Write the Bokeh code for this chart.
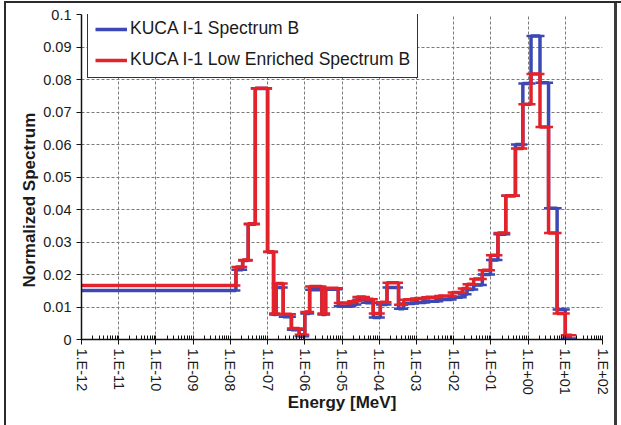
import math
from bokeh.plotting import figure
from bokeh.models import (Range1d, FixedTicker, CustomJSTickFormatter, Legend,
                          LegendItem, Title)
from bokeh.embed import file_html
from bokeh.resources import INLINE

# ---------------- data ----------------
# energy group boundaries [MeV]
bin_edges_mev = [1e-12, 1.41e-8, 2.14e-8, 3.02e-8, 4.68e-8, 1.0e-7, 1.45e-7, 1.70e-7,
                 2.63e-7, 4.37e-7, 7.08e-7, 1.0e-6, 1.35e-6, 2.88e-6, 3.63e-6, 7.94e-6,
                 1.82e-5, 2.51e-5, 4.27e-5, 6.92e-5, 1.07e-4, 1.62e-4, 3.31e-4, 4.57e-4,
                 8.91e-4, 1.78e-3, 3.98e-3, 9.12e-3, 1.70e-2, 2.29e-2, 3.47e-2, 5.89e-2,
                 9.77e-2, 0.155, 0.251, 0.457, 0.724, 1.20, 2.09, 3.55, 6.03, 10.0, 15.1]

spectrum_b = [0.0151, 0.0215, 0.0243, 0.0355, 0.0772, 0.0269, 0.0077, 0.0160, 0.0070,
              0.0030, 0.0010, 0.0080, 0.0153, 0.0077, 0.0155, 0.0102, 0.0108, 0.0122,
              0.0113, 0.0068, 0.0108, 0.0160, 0.0095, 0.0111, 0.0114, 0.0118, 0.0123,
              0.0130, 0.0139, 0.0154, 0.0168, 0.0200, 0.0245, 0.0324, 0.0442, 0.0600,
              0.0788, 0.0934, 0.0790, 0.0404, 0.0092, 0.0003]

low_enriched_b = [0.0166, 0.0223, 0.0245, 0.0356, 0.0773, 0.0270, 0.0080, 0.0172, 0.0078,
                  0.0034, 0.0015, 0.0085, 0.0163, 0.0080, 0.0158, 0.0112, 0.0118, 0.0131,
                  0.0124, 0.0080, 0.0115, 0.0175, 0.0107, 0.0122, 0.0126, 0.0130, 0.0134,
                  0.0145, 0.0157, 0.0170, 0.0186, 0.0213, 0.0259, 0.0328, 0.0442, 0.0588,
                  0.0724, 0.0817, 0.0654, 0.0328, 0.0080, 0.0013]

series_names = ["KUCA I-1 Spectrum B", "KUCA I-1 Low Enriched Spectrum B"]

x_tick_values = [1e-12, 1e-11, 1e-10, 1e-9, 1e-8, 1e-7, 1e-6, 1e-5, 1e-4, 1e-3,
                 1e-2, 1e-1, 1e0, 1e1, 1e2]
x_tick_labels = ["1.E-12", "1.E-11", "1.E-10", "1.E-09", "1.E-08", "1.E-07", "1.E-06",
                 "1.E-05", "1.E-04", "1.E-03", "1.E-02", "1.E-01", "1.E+00", "1.E+01",
                 "1.E+02"]
y_tick_values = [0.0, 0.01, 0.02, 0.03, 0.04, 0.05, 0.06, 0.07, 0.08, 0.09, 0.1]
y_tick_labels = ["0", "0.01", "0.02", "0.03", "0.04", "0.05", "0.06", "0.07", "0.08",
                 "0.09", "0.1"]

x_title = "Energy [MeV]"
y_title = "Normalized Spectrum"

# ---------------- styling ----------------
BLUE = "#3c48b4"
RED = "#e2232b"
FONT = "Liberation Sans"

p = figure(width=621, height=425, x_axis_type="log", output_backend="svg",
           toolbar_location=None,
           x_range=Range1d(x_tick_values[0], x_tick_values[-1]),
           y_range=Range1d(y_tick_values[0], y_tick_values[-1]),
           min_border_left=81, min_border_right=19, min_border_top=14,
           min_border_bottom=86)
p.outline_line_color = None
p.background_fill_color = "white"
p.border_fill_color = None
p.styles = {"background": "white",
            "box-shadow": "inset 4px 1px 0 #ffffff, inset 6px 3px 0 #2b2b2b, "
                          "inset -4px 0 0 #ffffff, inset -7px 0 0 #3a3a3a"}

# step histograms
renderers = []
for vals, col in [(spectrum_b, BLUE), (low_enriched_b, RED)]:
    r = p.step(x=bin_edges_mev, y=vals + [vals[-1]], mode="after",
               line_color=col, line_width=3.5)
    cx = bin_edges_mev[:-1] + bin_edges_mev[1:]
    cy = vals + vals
    p.scatter(x=cx, y=cy, marker="dash", size=9, line_color=col, line_width=2.5)
    renderers.append(r)

# axes
minor = []
for t in x_tick_values[:-1]:
    for k in range(2, 10):
        minor.append(t * k)
p.xaxis.ticker = FixedTicker(ticks=x_tick_values, minor_ticks=minor)
p.xaxis.formatter = CustomJSTickFormatter(args=dict(tvals=x_tick_values, labels=x_tick_labels), code="""
let best = 0, bd = Infinity;
for (let i = 0; i < tvals.length; i++) {
  const d = Math.abs(Math.log10(tvals[i]) - Math.log10(tick));
  if (d < bd) { bd = d; best = i; }
}
return labels[best];
""")
p.yaxis.ticker = FixedTicker(ticks=y_tick_values)
p.yaxis.formatter = CustomJSTickFormatter(args=dict(tvals=y_tick_values, labels=y_tick_labels), code="""
let best = 0, bd = Infinity;
for (let i = 0; i < tvals.length; i++) {
  const d = Math.abs(tvals[i] - tick);
  if (d < bd) { bd = d; best = i; }
}
return labels[best];
""")

for ax in (p.xaxis[0], p.yaxis[0]):
    ax.axis_line_color = "#111111"
    ax.axis_line_width = 1.5
    ax.major_tick_line_color = "#111111"
    ax.minor_tick_line_color = "#111111"
    ax.major_label_text_font = FONT
    ax.major_label_text_font_size = "14.5px"
    ax.major_label_text_color = "#1a1a1a"
    ax.axis_label_text_font = FONT
    ax.axis_label_text_font_size = "17px"
    ax.axis_label_text_font_style = "bold"
    ax.axis_label_text_color = "#1a1a1a"

p.xaxis.major_label_orientation = -math.pi / 2
p.xaxis.major_tick_in = 4
p.xaxis.major_tick_out = 5
p.xaxis.minor_tick_in = 4
p.xaxis.minor_tick_out = 0
p.xaxis.major_label_standoff = 4
p.xaxis.axis_label = x_title
p.xaxis.axis_label_standoff = -5

p.yaxis.major_tick_in = 0
p.yaxis.major_tick_out = 5
p.yaxis.minor_tick_line_color = None
p.yaxis.major_label_standoff = 5

# y title as a side title, starting ~52 px above the bottom of the frame (as in the reference)
ytitle = Title(text=y_title, align="left", offset=52, standoff=3,
               text_font=FONT, text_font_size="17px", text_font_style="bold",
               text_color="#1a1a1a")
p.add_layout(ytitle, "left")

# grid
for g in (p.xgrid[0], p.ygrid[0]):
    g.grid_line_color = "#7a7a7a"
    g.grid_line_dash = "3 2"
    g.grid_line_width = 1

# legend
legend = Legend(items=[LegendItem(label=series_names[0], renderers=[renderers[0]]),
                       LegendItem(label=series_names[1], renderers=[renderers[1]])],
                location=(6, 261), margin=0, padding=7, spacing=10,
                glyph_width=32, glyph_height=20, label_height=20, label_standoff=3,
                label_text_font=FONT, label_text_font_size="17.5px",
                label_text_color="#1a1a1a",
                border_line_color="#333333", border_line_width=1.3,
                border_line_alpha=1.0,
                background_fill_color="white", background_fill_alpha=1.0)
p.add_layout(legend)

open("out.html", "w").write(file_html(p, INLINE))
